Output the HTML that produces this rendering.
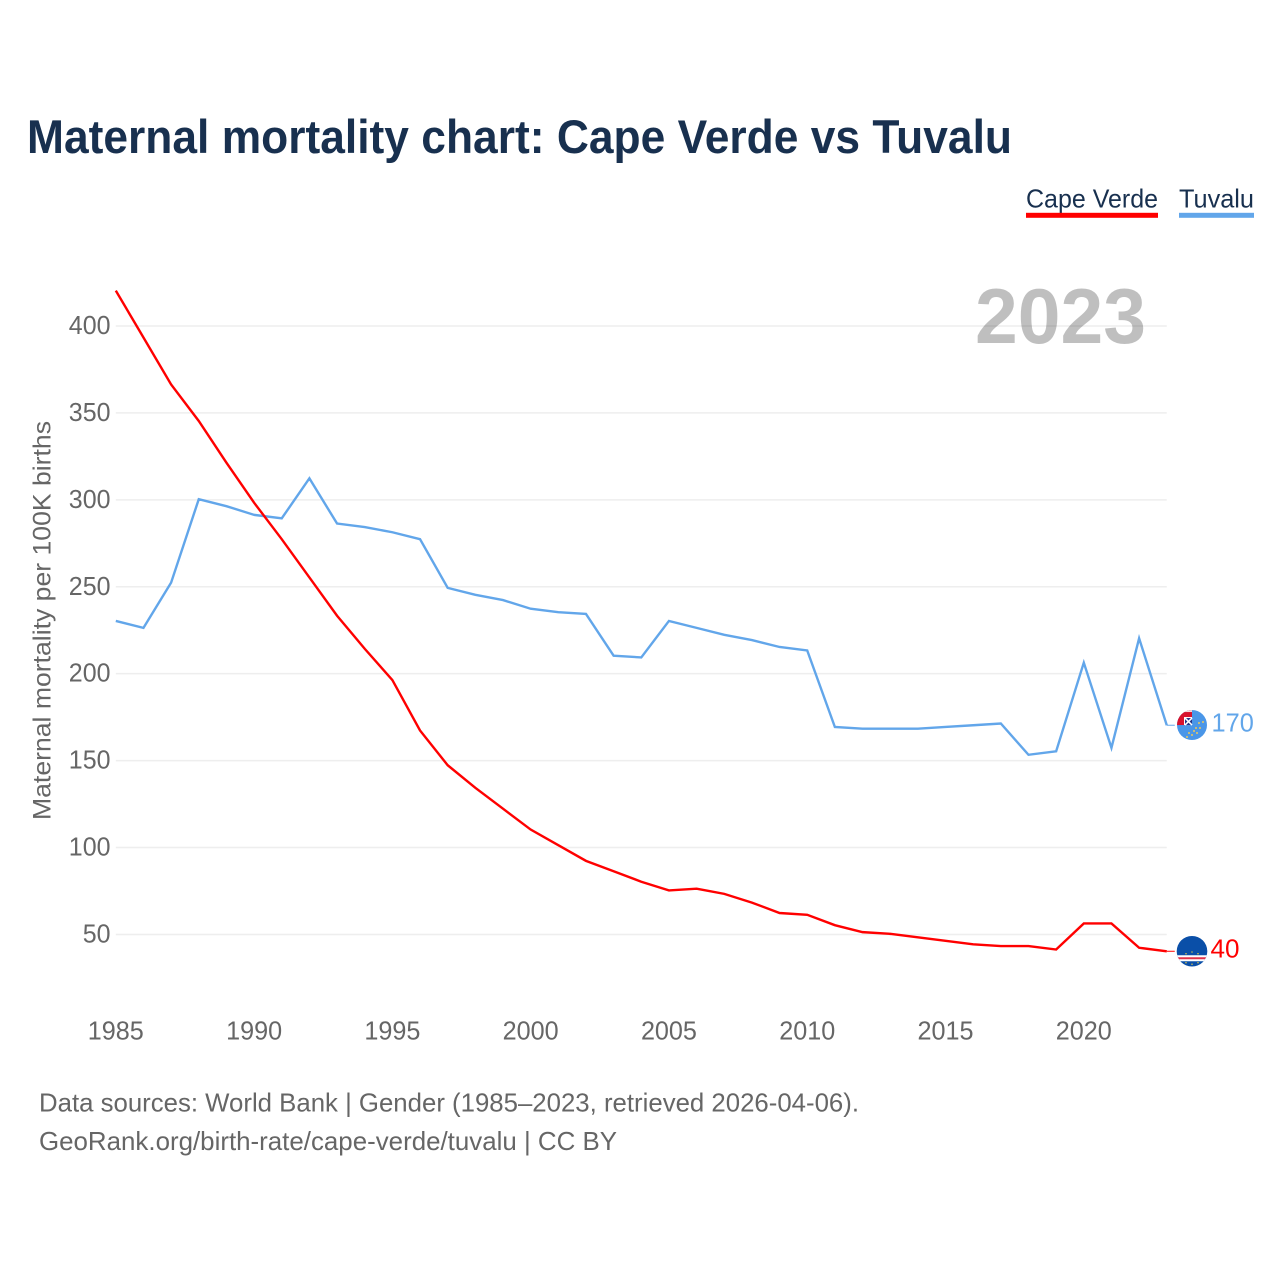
<!DOCTYPE html>
<html lang="en">
<head>
<meta charset="utf-8">
<title>Maternal mortality chart: Cape Verde vs Tuvalu</title>
<style>
html,body{margin:0;padding:0;background:#fff;}
svg{display:block;font-family:"Liberation Sans",sans-serif;}
</style>
</head>
<body>
<svg id="chart" xmlns="http://www.w3.org/2000/svg" width="1280" height="1280" viewBox="0 0 1280 1280">
  <defs>
    <clipPath id="clip-tuvalu"><circle cx="0" cy="0" r="15"/></clipPath>
    <clipPath id="clip-cv"><circle cx="0" cy="0" r="15.3"/></clipPath>
  </defs>
  <rect width="1280" height="1280" fill="#fff"/>
  <text x="27" y="153" font-size="47" font-weight="700" fill="#18304f" textLength="985" lengthAdjust="spacingAndGlyphs">Maternal mortality chart: Cape Verde vs Tuvalu</text>

  <g>
    <text x="1026" y="207.500" font-size="26" fill="#18304f" textLength="132" lengthAdjust="spacingAndGlyphs">Cape Verde</text>
    <rect x="1026" y="212.800" width="132" height="5" fill="#ff0000"/>
  </g>
  <g>
    <text x="1179" y="207.500" font-size="26" fill="#18304f" textLength="75" lengthAdjust="spacingAndGlyphs">Tuvalu</text>
    <rect x="1179" y="212.800" width="75" height="5" fill="#62a6ea"/>
  </g>

  <g id="grid"></g>
  <g id="y-ticks"></g>
  <g id="x-ticks"></g>

  <text x="975" y="343" font-size="78" font-weight="700" fill="#000" fill-opacity="0.25" textLength="171" lengthAdjust="spacingAndGlyphs">2023</text>

  <text transform="translate(50.500 820) rotate(-90)" font-size="25" fill="#666" textLength="399" lengthAdjust="spacingAndGlyphs">Maternal mortality per 100K births</text>

  <g id="series"></g>

  <g id="flag-tuvalu">
    <g clip-path="url(#clip-tuvalu)">
      <rect x="-15" y="-15" width="30" height="30" fill="#4a96e8"/>
      <rect x="-15" y="-15" width="15" height="15" fill="#d8112c"/>
      <rect x="-15" y="-15" width="15" height="2" fill="#f3d9dc"/>
      <rect x="-8" y="-8" width="8" height="8" fill="#fff"/>
      <rect x="-7" y="-7" width="7" height="7" fill="#24348a"/>
      <path d="M-7 -7 L0 0 M0 -7 L-7 0" stroke="#fff" stroke-width="1.500"/>
      <g fill="#e8c860">
        <circle cx="-5" cy="12" r="1"/><circle cx="-3" cy="8" r="1"/><circle cx="0" cy="10" r="1"/>
        <circle cx="2" cy="6" r="1"/><circle cx="5" cy="8" r="1"/><circle cx="4" cy="3" r="1"/>
        <circle cx="8" cy="3" r="1"/><circle cx="7" cy="-2" r="1"/><circle cx="11" cy="-3" r="1"/>
      </g>
    </g>
  </g>

  <g id="flag-cape-verde">
    <g clip-path="url(#clip-cv)">
      <rect x="-16" y="-16" width="32" height="32" fill="#0a4fa8"/>
      <rect x="-16" y="4" width="32" height="6" fill="#fff"/>
      <rect x="-16" y="6" width="32" height="2" fill="#e0314a"/>
      <g fill="#f0d040">
        <circle cx="-6" cy="2.500" r=".7"/><circle cx="0" cy="0.800" r=".7"/><circle cx="6" cy="2.500" r=".7"/>
        <circle cx="-6" cy="11.500" r=".7"/><circle cx="0" cy="13" r=".7"/><circle cx="6" cy="11.500" r=".7"/>
      </g>
    </g>
  </g>

  <text x="39" y="1111.500" font-size="26" fill="#666" textLength="820" lengthAdjust="spacingAndGlyphs">Data sources: World Bank | Gender (1985–2023, retrieved 2026-04-06).</text>
  <text x="39" y="1150" font-size="26" fill="#666" textLength="578" lengthAdjust="spacingAndGlyphs">GeoRank.org/birth-rate/cape-verde/tuvalu | CC BY</text>
</svg>

<script>
const years = [1985,1986,1987,1988,1989,1990,1991,1992,1993,1994,1995,1996,1997,1998,1999,2000,2001,2002,2003,2004,2005,2006,2007,2008,2009,2010,2011,2012,2013,2014,2015,2016,2017,2018,2019,2020,2021,2022,2023];
const capeVerde = [420,393,366,345,321,298,277,255,233,214,196,167,147,134,122,110,101,92,86,80,75,76,73,68,62,61,55,51,50,48,46,44,43,43,41,56,56,42,40];
const tuvalu = [230,226,252,300,296,291,289,312,286,284,281,277,249,245,242,237,235,234,210,209,230,226,222,219,215,213,169,168,168,168,169,170,171,153,155,206,157,220,170];
const yTickValues = [50,100,150,200,250,300,350,400];
const xTickValues = [1985,1990,1995,2000,2005,2010,2015,2020];

const SVG_NS = 'http://www.w3.org/2000/svg';
const GRID_OFFSET = 0.6;
function xScale(year){ return 115.8 + (year - 1985) * 27.657; }
function yScale(value){ return 1020.8 - value * 1.7386; }

const gridGroup = document.getElementById('grid');
const yTickGroup = document.getElementById('y-ticks');
const xTickGroup = document.getElementById('x-ticks');
const seriesGroup = document.getElementById('series');

yTickValues.forEach(function(value){
  const line = document.createElementNS(SVG_NS, 'line');
  
  
  line.setAttribute('x1', xScale(1985));
  line.setAttribute('x2', xScale(2023));
  line.setAttribute('y1', yScale(value) + GRID_OFFSET);
  line.setAttribute('y2', yScale(value) + GRID_OFFSET);
  line.setAttribute('stroke', '#eeeeee');
  line.setAttribute('stroke-width', '1.5');
  gridGroup.appendChild(line);

  const label = document.createElementNS(SVG_NS, 'text');
  
  
  label.setAttribute('x', '110.5');
  label.setAttribute('y', yScale(value) + GRID_OFFSET + 8);
  label.setAttribute('text-anchor', 'end');
  label.setAttribute('font-size', '26');
  label.setAttribute('fill', '#666');
  label.setAttribute('textLength', String(value).length * 13.9);
  label.setAttribute('lengthAdjust', 'spacingAndGlyphs');
  label.textContent = String(value);
  yTickGroup.appendChild(label);
});

xTickValues.forEach(function(year){
  const label = document.createElementNS(SVG_NS, 'text');
  
  
  label.setAttribute('x', xScale(year));
  label.setAttribute('y', '1039.7');
  label.setAttribute('text-anchor', 'middle');
  label.setAttribute('font-size', '26');
  label.setAttribute('fill', '#666');
  label.setAttribute('textLength', '56');
  label.setAttribute('lengthAdjust', 'spacingAndGlyphs');
  label.textContent = String(year);
  xTickGroup.appendChild(label);
});

function pathFor(values){
  return values.map(function(v, i){
    return (i ? 'L' : 'M') + xScale(years[i]).toFixed(2) + ' ' + yScale(v).toFixed(2);
  }).join(' ');
}

const tuvaluLine = document.createElementNS(SVG_NS, 'path');


tuvaluLine.setAttribute('d', pathFor(tuvalu));
tuvaluLine.setAttribute('fill', 'none');
tuvaluLine.setAttribute('stroke', '#62a6ea');
tuvaluLine.setAttribute('stroke-width', '2.4');
seriesGroup.appendChild(tuvaluLine);

const capeVerdeLine = document.createElementNS(SVG_NS, 'path');


capeVerdeLine.setAttribute('d', pathFor(capeVerde));
capeVerdeLine.setAttribute('fill', 'none');
capeVerdeLine.setAttribute('stroke', '#ff0000');
capeVerdeLine.setAttribute('stroke-width', '2.4');
seriesGroup.appendChild(capeVerdeLine);

const lastTuvalu = tuvalu[tuvalu.length - 1];
const lastCapeVerde = capeVerde[capeVerde.length - 1];
const endX = xScale(years[years.length - 1]);

const tuvaluConnector = document.createElementNS(SVG_NS, 'line');


tuvaluConnector.setAttribute('x1', endX);
tuvaluConnector.setAttribute('x2', endX + 8);
tuvaluConnector.setAttribute('y1', yScale(lastTuvalu));
tuvaluConnector.setAttribute('y2', yScale(lastTuvalu));
tuvaluConnector.setAttribute('stroke', '#62a6ea');
tuvaluConnector.setAttribute('stroke-width', '1');
seriesGroup.appendChild(tuvaluConnector);

const capeVerdeConnector = document.createElementNS(SVG_NS, 'line');


capeVerdeConnector.setAttribute('x1', endX);
capeVerdeConnector.setAttribute('x2', endX + 8);
capeVerdeConnector.setAttribute('y1', yScale(lastCapeVerde));
capeVerdeConnector.setAttribute('y2', yScale(lastCapeVerde));
capeVerdeConnector.setAttribute('stroke', '#ff0000');
capeVerdeConnector.setAttribute('stroke-width', '1');
seriesGroup.appendChild(capeVerdeConnector);

document.getElementById('flag-tuvalu').setAttribute('transform', 'translate(1192 ' + (yScale(lastTuvalu) - 0.2) + ')');
document.getElementById('flag-cape-verde').setAttribute('transform', 'translate(1192 ' + yScale(lastCapeVerde) + ')');

const tuvaluValue = document.createElementNS(SVG_NS, 'text');


tuvaluValue.setAttribute('x', '1211.5');
tuvaluValue.setAttribute('y', yScale(lastTuvalu) + 6.3);
tuvaluValue.setAttribute('font-size', '26');
tuvaluValue.setAttribute('fill', '#62a6ea');
tuvaluValue.setAttribute('textLength', String(lastTuvalu).length * 14.1);
tuvaluValue.setAttribute('lengthAdjust', 'spacingAndGlyphs');
tuvaluValue.textContent = String(lastTuvalu);
seriesGroup.appendChild(tuvaluValue);

const capeVerdeValue = document.createElementNS(SVG_NS, 'text');


capeVerdeValue.setAttribute('x', '1210.5');
capeVerdeValue.setAttribute('y', yScale(lastCapeVerde) + 6);
capeVerdeValue.setAttribute('font-size', '26');
capeVerdeValue.setAttribute('fill', '#ff0000');
capeVerdeValue.setAttribute('textLength', String(lastCapeVerde).length * 14.5);
capeVerdeValue.setAttribute('lengthAdjust', 'spacingAndGlyphs');
capeVerdeValue.textContent = String(lastCapeVerde);
seriesGroup.appendChild(capeVerdeValue);
</script>
</body>
</html>
